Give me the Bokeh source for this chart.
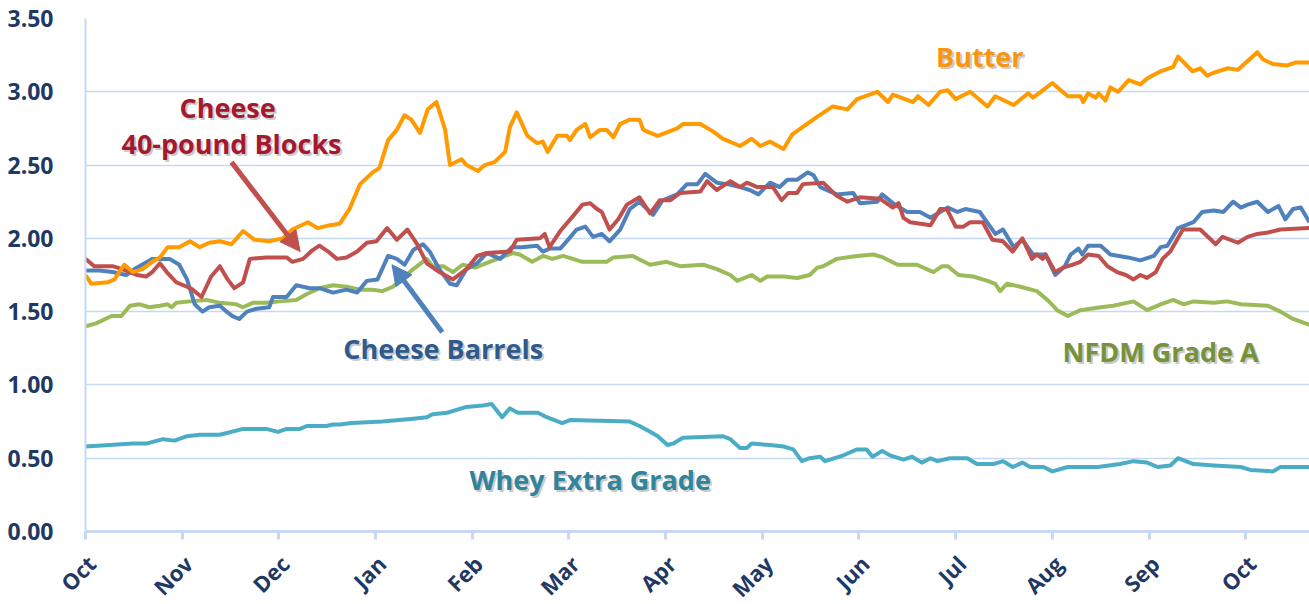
from math import pi
from bokeh.plotting import figure
from bokeh.layouts import column
from bokeh.models import Range1d, FixedTicker, PrintfTickFormatter, Arrow, NormalHead, Label
from bokeh.core.properties import value
from bokeh.embed import file_html
from bokeh.resources import INLINE

# ---- data (x in months since start of October) ----
month_labels = ["Oct", "Nov", "Dec", "Jan", "Feb", "Mar", "Apr", "May", "Jun", "Jul", "Aug", "Sep", "Oct"]
month_ticks = list(range(13))

butter_m = [0.00, 0.06, 0.23, 0.30, 0.40, 0.49, 0.59, 0.69, 0.77, 0.85, 0.97, 1.08, 1.18, 1.28, 1.39, 1.51, 1.63, 1.75,
            1.90, 2.04, 2.14, 2.30, 2.40, 2.53, 2.63, 2.73, 2.84, 2.97, 3.04, 3.13, 3.22, 3.30, 3.37, 3.46, 3.54, 3.63,
            3.72, 3.77, 3.89, 3.94, 4.06, 4.13, 4.23, 4.34, 4.39, 4.46, 4.57, 4.67, 4.73, 4.78, 4.88, 4.98, 5.01, 5.08,
            5.17, 5.22, 5.32, 5.39, 5.46, 5.53, 5.63, 5.73, 5.77, 5.84, 5.92, 6.12, 6.18, 6.36, 6.49, 6.59, 6.77, 6.89,
            6.98, 7.08, 7.22, 7.31, 7.42, 7.57, 7.73, 7.88, 7.98, 8.19, 8.30, 8.35, 8.56, 8.61, 8.72, 8.84, 8.92, 9.00,
            9.15, 9.33, 9.41, 9.60, 9.75, 9.80, 9.88, 10.00, 10.16, 10.29, 10.32, 10.37, 10.45, 10.48, 10.55, 10.60,
            10.68, 10.79, 10.91, 10.98, 11.12, 11.25, 11.30, 11.45, 11.53, 11.60, 11.67, 11.81, 11.92, 12.12, 12.18,
            12.28, 12.43, 12.52, 12.66]
butter_v = [1.75, 1.69, 1.70, 1.72, 1.82, 1.77, 1.79, 1.84, 1.87, 1.94, 1.94, 1.98, 1.94, 1.97, 1.98, 1.96, 2.05, 1.99,
            1.98, 2.00, 2.06, 2.11, 2.07, 2.09, 2.10, 2.20, 2.37, 2.45, 2.48, 2.67, 2.74, 2.84, 2.81, 2.72, 2.88, 2.93,
            2.74, 2.50, 2.54, 2.50, 2.46, 2.50, 2.52, 2.59, 2.76, 2.86, 2.70, 2.65, 2.66, 2.59, 2.70, 2.70, 2.67, 2.74,
            2.78, 2.69, 2.74, 2.74, 2.69, 2.78, 2.81, 2.81, 2.74, 2.72, 2.70, 2.75, 2.78, 2.78, 2.73, 2.68, 2.63, 2.68,
            2.63, 2.66, 2.61, 2.71, 2.76, 2.83, 2.90, 2.88, 2.95, 3.00, 2.93, 2.98, 2.93, 2.97, 2.91, 3.00, 3.01, 2.95,
            3.00, 2.90, 2.97, 2.91, 2.99, 2.96, 3.00, 3.06, 2.97, 2.97, 2.93, 2.99, 2.96, 2.99, 2.94, 3.03,
            3.00, 3.08, 3.05, 3.09, 3.14, 3.17, 3.24, 3.14, 3.16, 3.11, 3.13, 3.16, 3.15, 3.27, 3.22,
            3.19, 3.18, 3.20, 3.20]

blocks_m = [0.00, 0.09, 0.28, 0.38, 0.53, 0.63, 0.69, 0.77, 0.84, 0.94, 1.05, 1.11, 1.20, 1.30, 1.39, 1.47, 1.54, 1.63,
            1.70, 1.87, 2.08, 2.14, 2.25, 2.35, 2.42, 2.51, 2.60, 2.70, 2.81, 2.91, 3.01, 3.12, 3.22, 3.33, 3.43, 3.53,
            3.66, 3.80, 3.94, 4.05, 4.15, 4.39, 4.46, 4.70, 4.75, 4.80, 4.91, 5.04, 5.14, 5.22, 5.29, 5.34, 5.42, 5.51,
            5.60, 5.73, 5.84, 5.94, 6.05, 6.15, 6.36, 6.43, 6.53, 6.67, 6.77, 6.84, 6.95, 7.11, 7.20, 7.27, 7.36, 7.42,
            7.63, 7.77, 7.88, 8.01, 8.22, 8.35, 8.41, 8.46, 8.53, 8.74, 8.84, 8.91, 9.00, 9.08, 9.15, 9.28, 9.38, 9.49,
            9.59, 9.69, 9.79, 9.84, 9.90, 9.93, 10.03, 10.11, 10.21, 10.29, 10.37, 10.48, 10.57, 10.67, 10.76, 10.84,
            10.91, 10.98, 11.07, 11.14, 11.22, 11.35, 11.53, 11.69, 11.76, 11.92, 12.02, 12.12, 12.23, 12.36, 12.66]
blocks_v = [1.86, 1.81, 1.81, 1.79, 1.75, 1.74, 1.77, 1.83, 1.77, 1.70, 1.67, 1.65, 1.60, 1.74, 1.81, 1.72, 1.66, 1.70,
            1.86, 1.87, 1.87, 1.84, 1.86, 1.92, 1.95, 1.91, 1.86, 1.87, 1.91, 1.97, 1.98, 2.07, 1.99, 2.06, 1.96, 1.83,
            1.77, 1.72, 1.79, 1.88, 1.90, 1.91, 1.99, 2.00, 2.03, 1.94, 2.05, 2.15, 2.23, 2.24, 2.20, 2.18, 2.06, 2.13,
            2.23, 2.28, 2.17, 2.26, 2.26, 2.31, 2.32, 2.39, 2.33, 2.39, 2.35, 2.38, 2.35, 2.35, 2.26, 2.31, 2.31, 2.37,
            2.38, 2.29, 2.25, 2.28, 2.27, 2.21, 2.24, 2.14, 2.11, 2.09, 2.20, 2.20, 2.08, 2.08, 2.11, 2.11, 1.99, 1.98,
            1.91, 2.00, 1.86, 1.89, 1.86, 1.89, 1.77, 1.80, 1.82, 1.84, 1.89, 1.88, 1.81, 1.77, 1.75, 1.72,
            1.75, 1.73, 1.77, 1.86, 1.91, 2.06, 2.06, 1.96, 2.01, 1.97, 2.01, 2.03, 2.04, 2.06, 2.07]

barrels_m = [0.00, 0.14, 0.28, 0.42, 0.53, 0.69, 0.87, 0.97, 1.05, 1.13, 1.21, 1.28, 1.39, 1.46, 1.52, 1.59, 1.67, 1.77,
             1.90, 1.94, 2.08, 2.18, 2.32, 2.42, 2.56, 2.70, 2.81, 2.91, 3.02, 3.13, 3.22, 3.30, 3.39, 3.49, 3.56, 3.66,
             3.77, 3.84, 3.94, 4.05, 4.15, 4.29, 4.41, 4.51, 4.67, 4.73, 4.80, 4.91, 4.99, 5.08, 5.17, 5.25, 5.34, 5.42,
             5.53, 5.63, 5.73, 5.87, 5.97, 6.12, 6.22, 6.33, 6.41, 6.53, 6.64, 6.77, 6.87, 6.96, 7.08, 7.18, 7.26, 7.36,
             7.47, 7.53, 7.60, 7.77, 7.94, 8.01, 8.19, 8.24, 8.37, 8.50, 8.63, 8.74, 8.92, 9.02, 9.10, 9.25, 9.41, 9.49,
             9.60, 9.69, 9.80, 9.93, 10.03, 10.13, 10.19, 10.27, 10.31, 10.37, 10.50, 10.60, 10.78, 10.91, 11.05, 11.12,
             11.19, 11.30, 11.46, 11.55, 11.67, 11.77, 11.87, 11.95, 12.02, 12.12, 12.23, 12.34, 12.41, 12.49, 12.57,
             12.66]
barrels_v = [1.78, 1.78, 1.77, 1.75, 1.80, 1.86, 1.86, 1.82, 1.72, 1.55, 1.50, 1.53, 1.54, 1.50, 1.47, 1.45, 1.50, 1.52,
             1.53, 1.60, 1.60, 1.68, 1.66, 1.66, 1.63, 1.65, 1.63, 1.71, 1.72, 1.88, 1.86, 1.82, 1.92, 1.96, 1.91, 1.79,
             1.69, 1.68, 1.79, 1.83, 1.90, 1.86, 1.94, 1.94, 1.95, 1.91, 1.93, 1.93, 1.99, 2.06, 2.08, 2.01, 2.03, 1.98,
             2.06, 2.20, 2.25, 2.16, 2.26, 2.30, 2.37, 2.37, 2.44, 2.38, 2.37, 2.35, 2.33, 2.30, 2.38, 2.35, 2.40, 2.40,
             2.45, 2.43, 2.35, 2.30, 2.31, 2.24, 2.25, 2.30, 2.23, 2.18, 2.18, 2.14, 2.21, 2.18, 2.20, 2.18, 2.03, 2.06,
             1.94, 1.99, 1.89, 1.89, 1.75, 1.81, 1.89, 1.93, 1.89, 1.95, 1.95, 1.89, 1.87, 1.85, 1.88, 1.94,
             1.95, 2.07, 2.11, 2.18, 2.19, 2.18, 2.25, 2.21, 2.23, 2.25, 2.18, 2.22, 2.13, 2.20, 2.21,
             2.11]

nfdm_m = [0.00, 0.11, 0.27, 0.37, 0.46, 0.56, 0.66, 0.77, 0.85, 0.89, 0.94, 1.08, 1.25, 1.39, 1.56, 1.63, 1.73, 1.87,
          2.01, 2.18, 2.29, 2.42, 2.56, 2.70, 2.84, 2.97, 3.07, 3.18, 3.28, 3.39, 3.53, 3.59, 3.70, 3.80, 3.90, 4.03,
          4.18, 4.42, 4.49, 4.62, 4.73, 4.83, 4.94, 5.14, 5.39, 5.46, 5.66, 5.84, 6.01, 6.15, 6.39, 6.53, 6.67, 6.74,
          6.89, 6.98, 7.05, 7.22, 7.36, 7.49, 7.57, 7.63, 7.77, 7.98, 8.15, 8.25, 8.40, 8.60, 8.77, 8.86, 8.92, 9.03,
          9.18, 9.33, 9.41, 9.46, 9.53, 9.67, 9.84, 9.95, 10.05, 10.16, 10.29, 10.50, 10.63, 10.84, 10.98, 11.12,
          11.25, 11.36, 11.46, 11.67, 11.81, 11.95, 12.23, 12.36, 12.49, 12.66]
nfdm_v = [1.40, 1.42, 1.47, 1.47, 1.54, 1.55, 1.53, 1.54, 1.55, 1.53, 1.56, 1.57, 1.58, 1.56, 1.55, 1.53, 1.56, 1.56,
          1.57, 1.58, 1.62, 1.66, 1.68, 1.67, 1.65, 1.65, 1.64, 1.67, 1.73, 1.79, 1.86, 1.81, 1.81, 1.77, 1.82, 1.80,
          1.84, 1.90, 1.89, 1.84, 1.88, 1.86, 1.88, 1.84, 1.84, 1.87, 1.88, 1.82, 1.84, 1.81, 1.82, 1.79, 1.75, 1.71,
          1.75, 1.71, 1.74, 1.74, 1.73, 1.75, 1.80, 1.81, 1.86, 1.88, 1.89, 1.87, 1.82, 1.82, 1.77, 1.81, 1.81, 1.75,
          1.74, 1.71, 1.69, 1.64, 1.69, 1.67, 1.64, 1.58, 1.51, 1.47, 1.51, 1.53, 1.54, 1.57, 1.51, 1.55,
          1.58, 1.55, 1.57, 1.56, 1.57, 1.55, 1.54, 1.50, 1.45, 1.41]

whey_m = [0.00, 0.25, 0.49, 0.63, 0.80, 0.92, 1.05, 1.18, 1.39, 1.63, 1.87, 1.99, 2.08, 2.22, 2.29, 2.49, 2.56, 2.63,
          2.75, 3.07, 3.39, 3.53, 3.59, 3.74, 3.94, 4.11, 4.20, 4.31, 4.39, 4.47, 4.68, 4.77, 4.93, 5.01, 5.63, 5.73,
          5.84, 5.92, 6.02, 6.08, 6.18, 6.59, 6.67, 6.77, 6.84, 6.89, 7.08, 7.22, 7.32, 7.41, 7.49, 7.60, 7.65, 7.84,
          7.98, 8.08, 8.14, 8.24, 8.32, 8.46, 8.55, 8.65, 8.74, 8.81, 8.94, 9.12, 9.22, 9.39, 9.49, 9.59, 9.69, 9.77,
          9.91, 10.00, 10.16, 10.47, 10.70, 10.84, 10.98, 11.09, 11.22, 11.30, 11.46, 11.67, 11.95, 12.05, 12.28,
          12.36, 12.66]
whey_v = [0.58, 0.59, 0.60, 0.60, 0.63, 0.62, 0.65, 0.66, 0.66, 0.70, 0.70, 0.68, 0.70, 0.70, 0.72, 0.72, 0.73, 0.73,
          0.74, 0.75, 0.77, 0.78, 0.80, 0.81, 0.85, 0.86, 0.87, 0.78, 0.84, 0.81, 0.81, 0.78, 0.74, 0.76, 0.75, 0.72,
          0.68, 0.65, 0.59, 0.60, 0.64, 0.65, 0.63, 0.57, 0.57, 0.60, 0.59, 0.58, 0.56, 0.48, 0.50, 0.51, 0.48, 0.52,
          0.56, 0.56, 0.51, 0.55, 0.52, 0.49, 0.51, 0.47, 0.50, 0.48, 0.50, 0.50, 0.46, 0.46, 0.48, 0.44, 0.47, 0.44,
          0.44, 0.41, 0.44, 0.44, 0.46, 0.48, 0.47, 0.44, 0.45, 0.50, 0.46, 0.45, 0.44, 0.42, 0.41,
          0.44, 0.44]

# annotation anchors (month, price)
butter_label = ("Butter", 9.25, 3.24)
blocks_label1 = ("Cheese", 1.47, 2.89)
blocks_label2 = ("40-pound Blocks", 1.51, 2.65)
barrels_label = ("Cheese Barrels", 3.70, 1.25)
nfdm_label = ("NFDM Grade A", 11.12, 1.23)
whey_label = ("Whey Extra Grade", 5.22, 0.355)
blocks_arrow = (1.51, 2.52, 2.22, 1.91)
barrels_arrow = (3.69, 1.36, 3.17, 1.82)

C_BUTTER = "#FF9A00"
C_BLOCKS = "#C0504D"
C_BARRELS = "#4F81BD"
C_NFDM = "#9BBB59"
C_WHEY = "#4BACC6"
GRID = "#C6D9F1"
AXIS_TXT = "#1F3864"

X_END = 12.66
LEFT = 85          # px left of the plotting frame
MAIN_H = 550
LAB_H = 604 - MAIN_H

p = figure(width=1309, height=MAIN_H, x_range=Range1d(0, X_END), y_range=Range1d(0, 3.5),
           output_backend="svg", toolbar_location=None,
           min_border_left=LEFT, min_border_right=0, min_border_top=18, min_border_bottom=MAIN_H - 18 - 513)
p.frame_align = False
p.outline_line_color = None
p.background_fill_color = "white"
p.xgrid.visible = False
p.ygrid.grid_line_color = GRID
p.ygrid.grid_line_width = 1.5

p.yaxis.ticker = FixedTicker(ticks=[0, 0.5, 1.0, 1.5, 2.0, 2.5, 3.0, 3.5])
p.yaxis.formatter = PrintfTickFormatter(format="%.2f")
p.yaxis.major_tick_line_color = None
p.yaxis.minor_tick_line_color = None
p.yaxis.axis_line_color = GRID
p.yaxis.axis_line_width = 2
p.yaxis.major_label_standoff = 26
p.yaxis.major_label_text_font = "Open Sans"
p.yaxis.major_label_text_font_style = "bold"
p.yaxis.major_label_text_font_size = "23px"
p.yaxis.major_label_text_color = AXIS_TXT

p.xaxis.ticker = FixedTicker(ticks=month_ticks)
p.xaxis.major_label_text_font_size = "1px"
p.xaxis.major_label_text_color = None
p.xaxis.major_label_standoff = 0
p.xaxis.major_tick_in = 0
p.xaxis.major_tick_out = 8
p.xaxis.major_tick_line_color = GRID
p.xaxis.major_tick_line_width = 3
p.xaxis.minor_tick_line_color = None
p.xaxis.axis_line_color = GRID
p.xaxis.axis_line_width = 3

for xs, ys, c in [(whey_m, whey_v, C_WHEY), (nfdm_m, nfdm_v, C_NFDM), (barrels_m, barrels_v, C_BARRELS),
                  (blocks_m, blocks_v, C_BLOCKS), (butter_m, butter_v, C_BUTTER)]:
    p.line(xs, ys, line_color=c, line_width=4, line_join="round")

for (x0, y0, x1, y1), c in [(blocks_arrow, C_BLOCKS), (barrels_arrow, C_BARRELS)]:
    p.add_layout(Arrow(end=NormalHead(size=20, fill_color=c, line_color=c), x_start=x0, y_start=y0,
                       x_end=x1, y_end=y1, line_color=c, line_width=5))

for (txt, x, y), c in [(butter_label, "#F7960F"), (blocks_label1, "#A5192E"), (blocks_label2, "#A5192E"),
                       (barrels_label, "#2F5B8C"), (nfdm_label, "#76923C"), (whey_label, "#31849B")]:
    for dx, col, a in [(2, "#666666", 0.35), (0, c, 1.0)]:
        p.add_layout(Label(x=x, y=y, text=txt, x_offset=dx, y_offset=-dx, text_align="center",
                           text_baseline="middle", text_font="Open Sans", text_font_style="bold",
                           text_font_size="27px", text_color=col, text_alpha=a))

# strip under the chart holding the rotated month labels (same month scale, extended to the left edge)
px_per_month = (1309 - LEFT) / X_END
q = figure(width=1309, height=LAB_H, x_range=Range1d(-LEFT / px_per_month, X_END), y_range=Range1d(0, LAB_H),
           output_backend="svg", toolbar_location=None, x_axis_type=None, y_axis_type=None,
           min_border_left=0, min_border_right=0, min_border_top=0, min_border_bottom=0)
q.frame_align = False
q.outline_line_color = None
q.grid.visible = False
q.text(x=month_ticks, y=[LAB_H - 9] * len(month_ticks), text=month_labels, angle=pi / 4,
       text_align="right", text_baseline="middle", x_offset=6,
       text_font=value("Open Sans"), text_font_style="bold", text_font_size="22px", text_color=AXIS_TXT)

layout = column(p, q, spacing=0)
open("out.html", "w").write(file_html(layout, INLINE))
